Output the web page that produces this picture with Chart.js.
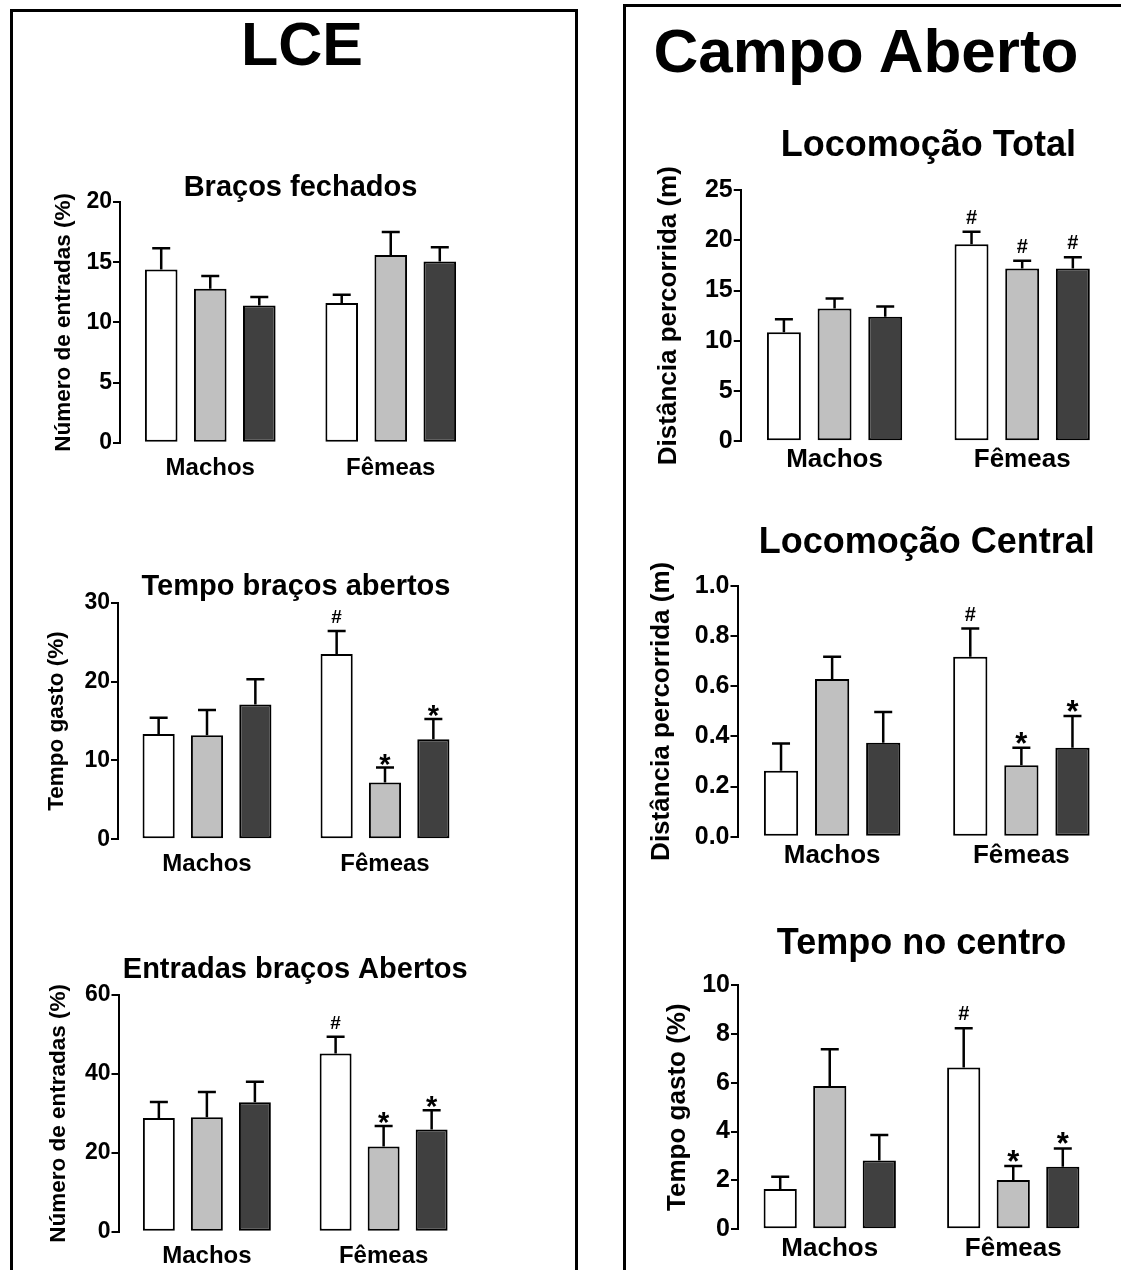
<!DOCTYPE html>
<html>
<head>
<meta charset="utf-8">
<script src="https://cdn.jsdelivr.net/npm/chart.js@4.4.1/dist/chart.umd.min.js"></script>
<style>
  body { margin: 0; background: #fff; width: 1121px; height: 1270px; overflow: hidden; position: relative;
         font-family: "Liberation Sans", Arial, sans-serif; }
  .painel { position: absolute; border: 3px solid #000; box-sizing: border-box; height: 1400px; }
  .cabeca { position: absolute; font-weight: bold; line-height: 1; white-space: nowrap; transform: translateX(-50%); }
  canvas { position: absolute; }
</style>
</head>
<body>
<div class="painel" style="left:10px; top:9px; width:568px;"></div>
<div class="painel" style="left:623px; top:4px; width:600px;"></div>
<div class="cabeca" style="left:302px; top:14px; font-size:61px;">LCE</div>
<div class="cabeca" style="left:866px; top:20px; font-size:62px;">Campo Aberto</div>

<canvas id="g1"></canvas>
<canvas id="g2"></canvas>
<canvas id="g3"></canvas>
<canvas id="g4"></canvas>
<canvas id="g5"></canvas>
<canvas id="g6"></canvas>

<script>
// Dados (séries: branco, cinza, escuro; cada uma com [Machos, Fêmeas])
const categorias = ['Machos', 'Fêmeas'];
const cores = ['#ffffff', '#c0c0c0', '#404040'];

// LCE - Braços fechados
const fechadosMedia = [[14.4, 11.6], [12.8, 15.6], [11.4, 15.05]];
const fechadosErro = [[1.75, 0.7], [1.05, 1.9], [0.7, 1.2]];
const fechadosMarca = [['', ''], ['', ''], ['', '']];
const fechadosTicks = [0, 5, 10, 15, 20];
const fechadosRotulos = ['0', '5', '10', '15', '20'];

// LCE - Tempo braços abertos
const tempoAbertosMedia = [[13.35, 23.5], [13.2, 7.2], [17.1, 12.7]];
const tempoAbertosErro = [[2.05, 2.9], [3.2, 1.9], [3.2, 2.55]];
const tempoAbertosMarca = [['', '#'], ['', '*'], ['', '*']];
const tempoAbertosTicks = [0, 10, 20, 30];
const tempoAbertosRotulos = ['0', '10', '20', '30'];

// LCE - Entradas braços abertos
const entradasMedia = [[28.8, 45.2], [29.0, 21.6], [32.8, 25.9]];
const entradasErro = [[4.1, 4.2], [6.4, 5.2], [5.2, 4.9]];
const entradasMarca = [['', '#'], ['', '*'], ['', '*']];
const entradasTicks = [0, 20, 40, 60];
const entradasRotulos = ['0', '20', '40', '60'];

// Campo aberto - Locomoção total
const locTotalMedia = [[10.85, 19.6], [13.2, 17.2], [12.4, 17.2]];
const locTotalErro = [[1.3, 1.25], [1.0, 0.75], [1.0, 1.1]];
const locTotalMarca = [['', '#'], ['', '#'], ['', '#']];
const locTotalTicks = [0, 5, 10, 15, 20, 25];
const locTotalRotulos = ['0', '5', '10', '15', '20', '25'];

// Campo aberto - Locomoção central
const locCentralMedia = [[0.263, 0.718], [0.629, 0.285], [0.375, 0.355]];
const locCentralErro = [[0.109, 0.112], [0.089, 0.07], [0.122, 0.126]];
const locCentralMarca = [['', '#'], ['', '*'], ['', '*']];
const locCentralTicks = [0, 0.2, 0.4, 0.6, 0.8, 1.0];
const locCentralRotulos = ['0.0', '0.2', '0.4', '0.6', '0.8', '1.0'];

// Campo aberto - Tempo no centro
const centroMedia = [[1.65, 6.62], [5.87, 2.02], [2.82, 2.56]];
const centroErro = [[0.5, 1.61], [1.5, 0.57], [1.04, 0.75]];
const centroMarca = [['', '#'], ['', '*'], ['', '*']];
const centroTicks = [0, 2, 4, 6, 8, 10];
const centroRotulos = ['0', '2', '4', '6', '8', '10'];

Chart.defaults.font.family = '"Liberation Sans", Arial, sans-serif';
Chart.defaults.color = '#000';

// barras de erro (só para cima) e marcas # / *
const barrasErro = {
  id: 'barrasErro',
  afterDatasetsDraw(chart, args, opts) {
    const ctx = chart.ctx;
    const y = chart.scales.y;
    chart.data.datasets.forEach((ds, i) => {
      chart.getDatasetMeta(i).data.forEach((barra, j) => {
        const topoErro = y.getPixelForValue(ds.data[j] + ds.erro[j]);
        ctx.save();
        ctx.strokeStyle = '#000';
        ctx.lineWidth = 2.5;
        ctx.beginPath();
        ctx.moveTo(barra.x, barra.y);
        ctx.lineTo(barra.x, topoErro);
        ctx.moveTo(barra.x - 9, topoErro);
        ctx.lineTo(barra.x + 9, topoErro);
        ctx.stroke();
        const m = ds.marca[j];
        if (m) {
          ctx.fillStyle = '#000';
          ctx.textAlign = 'center';
          ctx.textBaseline = 'alphabetic';
          if (m === '#') {
            ctx.font = 'bold ' + opts.cerquilha + 'px "Liberation Sans", Arial, sans-serif';
            ctx.fillText(m, barra.x, topoErro - 8);
          } else {
            ctx.font = 'bold ' + opts.asterisco + 'px "Liberation Sans", Arial, sans-serif';
            ctx.fillText(m, barra.x, topoErro + 6);
          }
        }
        ctx.restore();
      });
    });
  }
};

function grafico(id, g, media, erro, marca, ticks, rotulos, titulo, eixoY) {
  const canvas = document.getElementById(id);
  const esq = Math.round(g.l - g.larguraY);
  const larguraY = g.l - esq;
  let topo = Math.round(g.tituloY - g.tituloTam / 2);
  if (g.t - topo - g.tituloTam < 0) topo = Math.floor(g.t - g.tituloTam);
  const padTitulo = g.t - topo - g.tituloTam;
  const alt = Math.round(g.b - topo + g.padX + 40);
  const alturaX = alt - (g.b - topo);
  canvas.width = Math.round(g.r - esq + 4);
  canvas.height = alt;
  canvas.style.left = esq + 'px';
  canvas.style.top = topo + 'px';

  new Chart(canvas, {
    type: 'bar',
    data: {
      labels: categorias,
      datasets: media.map((serie, i) => ({
        data: serie,
        erro: erro[i],
        marca: marca[i],
        backgroundColor: cores[i],
        borderColor: '#000',
        borderWidth: 2,
        borderSkipped: false,
        categoryPercentage: g.cat,
        barPercentage: g.bar
      }))
    },
    options: {
      responsive: false,
      animation: false,
      devicePixelRatio: 1,
      layout: { padding: { left: 0, top: 0, right: canvas.width - (g.r - esq), bottom: 0 } },
      plugins: {
        legend: { display: false },
        tooltip: { enabled: false },
        title: {
          display: true,
          text: titulo,
          fullSize: false,
          color: '#000',
          font: { size: g.tituloTam, weight: 'bold', lineHeight: 1 },
          padding: { top: 0, bottom: padTitulo }
        },
        barrasErro: { cerquilha: g.cerquilha, asterisco: g.asterisco }
      },
      scales: {
        x: {
          grid: { display: false, drawTicks: false },
          border: { display: false },
          ticks: { font: { size: g.xTam, weight: 'bold' }, color: '#000', padding: g.padX, maxRotation: 0 },
          afterFit: s => { s.height = alturaX; }
        },
        y: {
          min: 0,
          max: ticks[ticks.length - 1],
          border: { display: true, color: '#000', width: 2 },
          grid: { drawOnChartArea: false, drawTicks: true, tickLength: 7, color: '#000', lineWidth: 2 },
          ticks: { font: { size: g.tickTam, weight: 'bold' }, color: '#000', padding: 1,
                   callback: (v, i) => rotulos[i] },
          afterBuildTicks: s => { s.ticks = ticks.map(v => ({ value: v })); },
          title: { display: true, text: eixoY, color: '#000',
                   font: { size: g.yTitTam, weight: 'bold', lineHeight: 1 }, padding: { top: 0, bottom: 0 } },
          afterFit: s => { s.width = larguraY; }
        }
      }
    },
    plugins: [barrasErro]
  });
}

const esquerda = { tituloTam: 29, yTitTam: 22.5, tickTam: 23, xTam: 24, cat: 0.815, bar: 0.665, cerquilha: 19, asterisco: 29 };
const direita = { tituloTam: 36, yTitTam: 26, tickTam: 25, xTam: 26, cat: 0.81, bar: 0.67, cerquilha: 20, asterisco: 31 };

grafico('g1', Object.assign({ l: 120, t: 202, r: 481, b: 442.7, tituloY: 188, larguraY: 67, padX: 11.4 }, esquerda),
  fechadosMedia, fechadosErro, fechadosMarca, fechadosTicks, fechadosRotulos,
  'Braços fechados', 'Número de entradas (%)');

grafico('g2', Object.assign({ l: 118, t: 602.7, r: 474, b: 839.3, tituloY: 586, larguraY: 72, padX: 10.3 }, esquerda),
  tempoAbertosMedia, tempoAbertosErro, tempoAbertosMarca, tempoAbertosTicks, tempoAbertosRotulos,
  'Tempo braços abertos', 'Tempo gasto (%)');

grafico('g3', Object.assign({ l: 118.5, t: 995, r: 472, b: 1231.7, tituloY: 969, larguraY: 70.5, padX: 9.9 }, esquerda),
  entradasMedia, entradasErro, entradasMarca, entradasTicks, entradasRotulos,
  'Entradas braços Abertos', 'Número de entradas (%)');

grafico('g4', Object.assign({ l: 740.75, t: 190, r: 1116, b: 441.3, tituloY: 146, larguraY: 84.75, padX: 3.1 }, direita),
  locTotalMedia, locTotalErro, locTotalMarca, locTotalTicks, locTotalRotulos,
  'Locomoção Total', 'Distância percorrida (m)');

grafico('g5', Object.assign({ l: 737.5, t: 586, r: 1116, b: 836.7, tituloY: 543, larguraY: 88.5, padX: 3.7 }, direita),
  locCentralMedia, locCentralErro, locCentralMarca, locCentralTicks, locCentralRotulos,
  'Locomoção Central', 'Distância percorrida (m)');

grafico('g6', Object.assign({ l: 738, t: 985, r: 1105, b: 1229.3, tituloY: 944, larguraY: 73, padX: 3.6 }, direita),
  centroMedia, centroErro, centroMarca, centroTicks, centroRotulos,
  'Tempo no centro', 'Tempo gasto (%)');
</script>
</body>
</html>
